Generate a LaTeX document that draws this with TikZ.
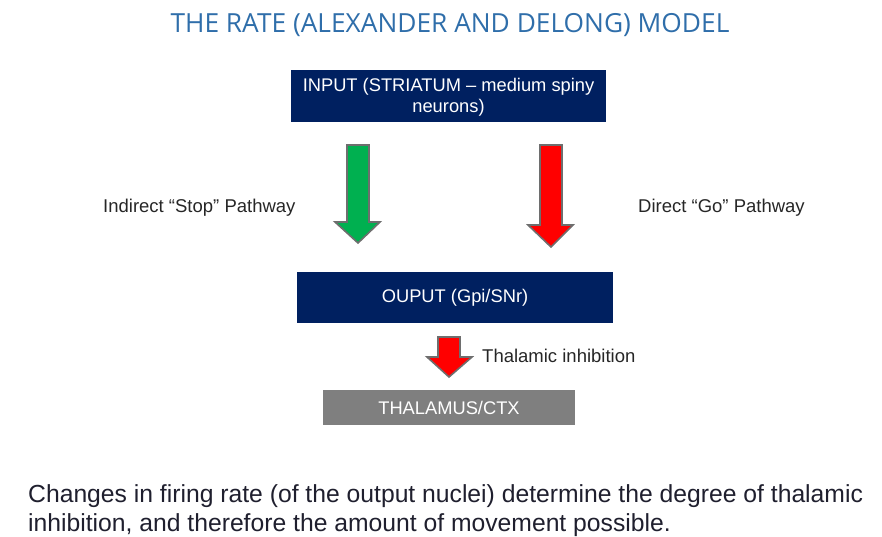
\documentclass[tikz,border=0pt]{standalone}
\usepackage{fontspec}
\setmainfont{Liberation Sans}
\newfontfamily\titlefont{Open Sans}
\definecolor{navy}{HTML}{002060}
\definecolor{boxgray}{HTML}{7F7F7F}
\definecolor{titleblue}{HTML}{2F6EAA}
\definecolor{arrgreen}{HTML}{00B050}
\definecolor{arrred}{HTML}{FF0000}
\definecolor{edgegray}{HTML}{6E6E6E}
\definecolor{bodytext}{HTML}{1F1F2E}
\begin{document}
\begin{tikzpicture}[x=1pt,y=-1pt,
  boxtext/.style={text=white,font=\fontsize{18.3}{21.5}\selectfont,align=center,inner sep=0pt},
  lbl/.style={font=\fontsize{18.5}{21}\selectfont,text=black!85,inner sep=0pt},
  blockarrow/.style={draw=edgegray,line width=1.6pt,line join=miter}]
\useasboundingbox (0,0) rectangle (882,537);
\node[text=titleblue,font=\titlefont\fontsize{26.3}{30}\selectfont,inner sep=0pt] (title) at (450,25) {THE RATE (ALEXANDER AND DELONG) MODEL};
% boxes
\fill[navy] (291,70) rectangle (606,122);
\node[boxtext] (input) at (448.5,97.5) {INPUT (STRIATUM -- medium spiny\\ neurons)};
\fill[navy] (297,272) rectangle (613,323);
\node[boxtext] (output) at (455,297.5) {OUPUT (Gpi/SNr)};
\fill[boxgray] (323,390) rectangle (575,425);
\node[boxtext] (thal) at (449,407.5) {THALAMUS/CTX};
% arrows
\filldraw[blockarrow,fill=arrgreen] (347,145) -- (369,145) -- (369,222) -- (380,222) -- (358,243) -- (335,222) -- (347,222) -- cycle;
\filldraw[blockarrow,fill=arrred] (540,145) -- (562,145) -- (562,225) -- (573,225) -- (551,247) -- (528,225) -- (540,225) -- cycle;
\filldraw[blockarrow,fill=arrred] (438,337) -- (460,337) -- (460,357) -- (472,357) -- (449,377) -- (427,357) -- (438,357) -- cycle;
% labels
\node[lbl,anchor=west] (ind) at (103,208) {Indirect “Stop” Pathway};
\node[lbl,anchor=west] (dir) at (638,208) {Direct “Go” Pathway};
\node[lbl,anchor=west] (thinh) at (482,356) {Thalamic inhibition};
\node[text=bodytext,font=\fontsize{24.7}{29}\selectfont,align=left,anchor=base west,inner sep=0pt] (body) at (28,531) {Changes in firing rate (of the output nuclei) determine the degree of thalamic\\inhibition, and therefore the amount of movement possible.};
\end{tikzpicture}
\end{document}
